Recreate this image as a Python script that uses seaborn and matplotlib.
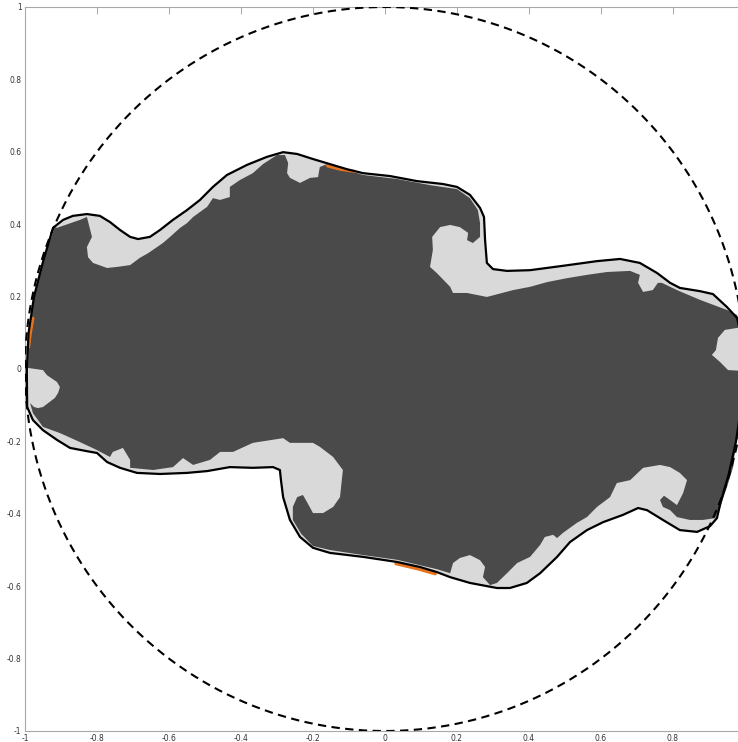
import numpy as np
import pandas as pd
import matplotlib
matplotlib.use("Agg")
import matplotlib.pyplot as plt
import seaborn as sns

# ---- data ----
# outer interface curve (black line), closed
boundary_x = [-0.995, -0.990, -0.975, -0.949, -0.922, -0.894, -0.867, -0.828, -0.792, -0.764,
              -0.736, -0.708, -0.686, -0.653, -0.625, -0.589, -0.550, -0.514, -0.478, -0.439,
              -0.383, -0.328, -0.283, -0.244, -0.200, -0.153, -0.106, -0.061, 0.014, 0.089,
              0.161, 0.200, 0.236, 0.264, 0.275, 0.278, 0.283, 0.300, 0.339, 0.403,
              0.494, 0.589, 0.653, 0.708, 0.756, 0.792, 0.819, 0.875, 0.911, 0.950,
              0.978, 0.992, 0.995, 0.990, 0.975, 0.955, 0.932, 0.922, 0.903, 0.867,
              0.819, 0.772, 0.728, 0.703, 0.661, 0.606, 0.561, 0.514, 0.478, 0.431,
              0.394, 0.347, 0.311, 0.236, 0.181, 0.144, 0.097, 0.033, -0.061, -0.153,
              -0.200, -0.236, -0.264, -0.283, -0.289, -0.292, -0.311, -0.367, -0.431, -0.494,
              -0.550, -0.625, -0.689, -0.736, -0.772, -0.800, -0.828, -0.875, -0.911, -0.950,
              -0.978, -0.994]
boundary_y = [0.000, 0.100, 0.200, 0.300, 0.390, 0.412, 0.423, 0.428, 0.423, 0.406,
              0.384, 0.365, 0.359, 0.365, 0.384, 0.412, 0.439, 0.467, 0.503, 0.536,
              0.564, 0.586, 0.599, 0.594, 0.580, 0.566, 0.552, 0.541, 0.533, 0.519,
              0.511, 0.503, 0.481, 0.445, 0.420, 0.356, 0.293, 0.276, 0.271, 0.273,
              0.285, 0.298, 0.304, 0.293, 0.265, 0.238, 0.224, 0.215, 0.207, 0.171,
              0.141, 0.080, 0.000, -0.100, -0.200, -0.290, -0.370, -0.412, -0.434, -0.450,
              -0.445, -0.417, -0.390, -0.384, -0.403, -0.423, -0.445, -0.478, -0.519, -0.564,
              -0.591, -0.605, -0.605, -0.591, -0.575, -0.561, -0.547, -0.533, -0.519, -0.508,
              -0.494, -0.464, -0.417, -0.354, -0.307, -0.279, -0.271, -0.273, -0.271, -0.282,
              -0.287, -0.290, -0.287, -0.273, -0.257, -0.232, -0.227, -0.218, -0.196, -0.169,
              -0.141, -0.105]

# dark core region (inner fluid), closed
core_x = [-0.917, -0.911, -0.847, -0.828, -0.814, -0.828, -0.825, -0.811, -0.772, -0.744,
          -0.708, -0.681, -0.658, -0.633, -0.617, -0.597, -0.569, -0.550, -0.533, -0.494,
          -0.478, -0.458, -0.431, -0.431, -0.403, -0.367, -0.339, -0.300, -0.278, -0.269,
          -0.272, -0.264, -0.236, -0.208, -0.186, -0.181, -0.161, -0.061, 0.033, 0.125,
          0.200, 0.236, 0.258, 0.264, 0.264, 0.244, 0.228, 0.231, 0.208, 0.181,
          0.153, 0.131, 0.133, 0.125, 0.144, 0.181, 0.189, 0.228, 0.283, 0.356,
          0.403, 0.450, 0.506, 0.561, 0.617, 0.681, 0.708, 0.703, 0.717, 0.744,
          0.758, 0.769, 0.811, 0.875, 0.950, 0.978, 0.988, 0.944, 0.925, 0.919,
          0.908, 0.931, 0.953, 0.990, 0.988, 0.975, 0.967, 0.950, 0.931, 0.917,
          0.883, 0.847, 0.811, 0.792, 0.772, 0.764, 0.775, 0.792, 0.811, 0.828,
          0.839, 0.819, 0.792, 0.764, 0.717, 0.681, 0.644, 0.625, 0.589, 0.561,
          0.533, 0.494, 0.478, 0.467, 0.444, 0.431, 0.403, 0.367, 0.339, 0.311,
          0.292, 0.272, 0.278, 0.264, 0.236, 0.208, 0.189, 0.181, 0.144, 0.033,
          -0.061, -0.153, -0.200, -0.233, -0.256, -0.256, -0.244, -0.228, -0.217, -0.200,
          -0.172, -0.144, -0.125, -0.119, -0.117, -0.144, -0.181, -0.200, -0.264, -0.283,
          -0.367, -0.422, -0.458, -0.486, -0.533, -0.561, -0.589, -0.644, -0.708, -0.708,
          -0.728, -0.756, -0.764, -0.800, -0.847, -0.903, -0.950, -0.978, -0.986, -0.975,
          -0.964, -0.950, -0.917, -0.908, -0.903, -0.911, -0.939, -0.950, -0.992, -0.990,
          -0.975, -0.949]
core_y = [0.392, 0.390, 0.412, 0.420, 0.365, 0.337, 0.309, 0.293, 0.279, 0.282,
          0.287, 0.307, 0.320, 0.337, 0.348, 0.365, 0.390, 0.403, 0.420, 0.448,
          0.472, 0.467, 0.475, 0.503, 0.522, 0.541, 0.566, 0.591, 0.591, 0.569,
          0.541, 0.528, 0.514, 0.528, 0.530, 0.558, 0.566, 0.536, 0.525, 0.508,
          0.497, 0.472, 0.439, 0.403, 0.365, 0.348, 0.356, 0.376, 0.392, 0.398,
          0.392, 0.365, 0.329, 0.282, 0.265, 0.227, 0.210, 0.210, 0.199, 0.218,
          0.227, 0.240, 0.251, 0.260, 0.268, 0.271, 0.260, 0.238, 0.213, 0.218,
          0.238, 0.238, 0.218, 0.191, 0.163, 0.149, 0.115, 0.108, 0.086, 0.052,
          0.039, 0.019, -0.003, -0.005, -0.100, -0.200, -0.271, -0.326, -0.381, -0.412,
          -0.417, -0.417, -0.409, -0.390, -0.381, -0.362, -0.350, -0.362, -0.376, -0.343,
          -0.307, -0.287, -0.271, -0.265, -0.273, -0.307, -0.315, -0.354, -0.381, -0.409,
          -0.425, -0.453, -0.467, -0.458, -0.464, -0.486, -0.519, -0.536, -0.564, -0.591,
          -0.597, -0.575, -0.547, -0.528, -0.514, -0.522, -0.536, -0.564, -0.553, -0.527,
          -0.514, -0.500, -0.489, -0.455, -0.417, -0.381, -0.354, -0.348, -0.367, -0.398,
          -0.398, -0.381, -0.354, -0.298, -0.279, -0.243, -0.215, -0.204, -0.204, -0.191,
          -0.204, -0.229, -0.229, -0.251, -0.265, -0.246, -0.271, -0.279, -0.273, -0.251,
          -0.218, -0.229, -0.243, -0.224, -0.202, -0.177, -0.160, -0.122, -0.094, -0.105,
          -0.108, -0.105, -0.080, -0.066, -0.050, -0.036, -0.017, -0.003, 0.003, 0.100,
          0.200, 0.300]

# thin orange slivers along the interface
orange_top_x = [-0.160, -0.125, -0.085]
orange_top_y = [0.561, 0.552, 0.546]
orange_bot_x = [0.030, 0.090, 0.140]
orange_bot_y = [-0.538, -0.552, -0.566]
orange_left_x = [-0.990, -0.985, -0.978]
orange_left_y = [0.060, 0.100, 0.140]

# x axis runs past the right edge of the picture, so its "1" tick is not visible
xticks = [-1, -0.8, -0.6, -0.4, -0.2, 0, 0.2, 0.4, 0.6, 0.8]
xtick_labels = ["-1", "-0.8", "-0.6", "-0.4", "-0.2", "0", "0.2", "0.4", "0.6", "0.8"]
yticks = [-1, -0.8, -0.6, -0.4, -0.2, 0, 0.2, 0.4, 0.6, 0.8, 1]
ytick_labels = ["-1", "-0.8", "-0.6", "-0.4", "-0.2", "0", "0.2", "0.4", "0.6", "0.8", "1"]

# ---- plot ----
sns.set_style("white")
fig = plt.figure(figsize=(7.38, 7.42), dpi=100)
ax = fig.add_axes([25 / 738, 11 / 742, 720 / 738, 724 / 742])

ax.fill(boundary_x, boundary_y, color="#d9d9d9", lw=0, zorder=1)
ax.fill(core_x, core_y, color="#4a4a4a", lw=0, zorder=2)

for ox, oy in [(orange_top_x, orange_top_y), (orange_bot_x, orange_bot_y),
               (orange_left_x, orange_left_y)]:
    sns.lineplot(x=ox, y=oy, sort=False, estimator=None, color="#e8731e",
                 lw=2.2, ax=ax, zorder=3)

bdf = pd.DataFrame({"x": boundary_x + boundary_x[:1], "y": boundary_y + boundary_y[:1]})
sns.lineplot(data=bdf, x="x", y="y", sort=False, estimator=None, color="black",
             lw=1.6, ax=ax, zorder=4)

theta = np.linspace(0, 2 * np.pi, 721)
cdf = pd.DataFrame({"x": np.cos(theta), "y": np.sin(theta)})
sns.lineplot(data=cdf, x="x", y="y", sort=False, estimator=None, color="black",
             lw=1.5, ax=ax, zorder=5, linestyle=(0, (4, 2.6)))

ax.set_xlim(-1, 1)
ax.set_ylim(-1, 1)
ax.set_xlabel("")
ax.set_ylabel("")
ax.set_xticks(xticks)
ax.set_yticks(yticks)
ax.set_xticklabels(xtick_labels)
ax.set_yticklabels(ytick_labels)
ax.tick_params(direction="in", length=5, width=0.7, colors="#a8a8a8",
               labelcolor="#333333", labelsize=5.5, top=True, right=True, pad=2.5)
for s in ax.spines.values():
    s.set_color("#a8a8a8")
    s.set_linewidth(0.8)
    s.set_visible(True)

fig.savefig("out.png", dpi=100)
